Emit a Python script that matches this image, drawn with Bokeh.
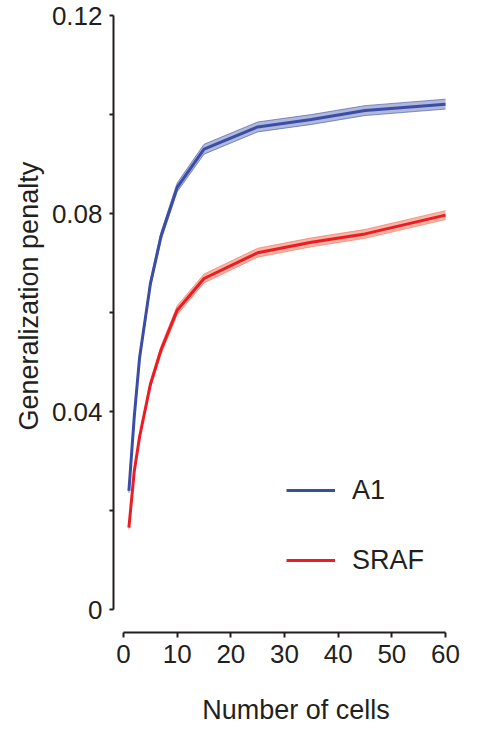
from bokeh.embed import file_html
from bokeh.models import FixedTicker, Legend, LegendItem, Range1d, Title
from bokeh.plotting import figure
from bokeh.resources import INLINE

# Generalization penalty vs. number of cells (mean ± s.e.m.)
cells = [1, 2, 3, 5, 7, 10, 15, 25, 35, 45, 60]
a1_mean = [0.0240, 0.0390, 0.0510, 0.0658, 0.0755, 0.0853, 0.0930, 0.0975, 0.0990, 0.1008, 0.1021]
a1_sem = [0.0004, 0.0005, 0.0006, 0.0007, 0.0008, 0.0009, 0.0010, 0.0010, 0.0010, 0.0010, 0.0010]
sraf_mean = [0.0166, 0.0280, 0.0350, 0.0455, 0.0525, 0.0605, 0.0669, 0.0721, 0.0742, 0.0759, 0.0797]
sraf_sem = [0.0004, 0.0005, 0.0006, 0.0007, 0.0008, 0.0009, 0.0009, 0.0009, 0.0009, 0.0009, 0.0009]

x_ticks = [0, 10, 20, 30, 40, 50, 60]
y_ticks = [0, 0.04, 0.08, 0.12]
y_minor_ticks = [0.02, 0.06, 0.10]
y_tick_labels = ["0", "0.04", "0.08", "0.12"]

INK = "#231f20"
FONT = "Liberation Sans"
A1_COLOR = "#3b4ea6"
SRAF_COLOR = "#ed1c24"
SRAF_BAND = "#f26d4f"

p = figure(
    width=478,
    height=734,
    x_range=Range1d(-1.87, 66.15),
    y_range=Range1d(-0.00458, 0.12),
    output_backend="svg",
    toolbar_location=None,
    min_border_left=113,
    min_border_right=0,
    min_border_top=15,
    min_border_bottom=102,
)
p.outline_line_color = None
p.grid.visible = False
p.background_fill_color = "white"
p.border_fill_color = "white"

# axes: detached spines limited to the data extent
xa = p.xaxis[0]
xa.bounds = (0, 60)
xa.ticker = FixedTicker(ticks=x_ticks)
xa.major_tick_out = 5
xa.major_tick_in = 0
xa.major_label_standoff = 7
xa.axis_label = "Number of cells"
xa.axis_label_standoff = 29
xa.axis_label_text_font = FONT
xa.axis_label_text_font_size = "27px"
xa.axis_label_text_font_style = "normal"
xa.axis_label_text_color = INK

ya = p.yaxis[0]
ya.bounds = (0, 0.12)
ya.ticker = FixedTicker(ticks=y_ticks, minor_ticks=y_minor_ticks)
ya.major_tick_out = 4
ya.major_tick_in = 0
ya.minor_tick_out = 4
ya.minor_tick_in = 0
ya.major_label_standoff = 7
ya.major_label_overrides = dict(zip(y_ticks, y_tick_labels))

for ax in (xa, ya):
    ax.axis_line_color = INK
    ax.axis_line_width = 2
    ax.major_tick_line_color = INK
    ax.major_tick_line_width = 2
    ax.minor_tick_line_color = INK if ax is ya else None
    ax.minor_tick_line_width = 2
    ax.major_label_text_font = FONT
    ax.major_label_text_font_size = "26px"
    ax.major_label_text_color = INK


def band(mean, sem, line_color, fill_color, fill_alpha):
    lower = [m - s for m, s in zip(mean, sem)]
    upper = [m + s for m, s in zip(mean, sem)]
    p.varea(x=cells, y1=lower, y2=upper, fill_color=fill_color, fill_alpha=fill_alpha)
    p.line(cells, lower, line_color=fill_color, line_alpha=0.6, line_width=1)
    p.line(cells, upper, line_color=fill_color, line_alpha=0.6, line_width=1)
    return p.line(cells, mean, line_color=line_color, line_width=3)


a1_line = band(a1_mean, a1_sem, A1_COLOR, A1_COLOR, 0.4)
sraf_line = band(sraf_mean, sraf_sem, SRAF_COLOR, SRAF_BAND, 0.5)

legend = Legend(
    items=[
        LegendItem(label="A1", renderers=[a1_line]),
        LegendItem(label="SRAF", renderers=[sraf_line]),
    ],
    location=(173, 52),
    orientation="vertical",
    glyph_width=49,
    glyph_height=20,
    label_height=40,
    spacing=30,
    padding=0,
    margin=0,
    label_standoff=17,
    label_text_font=FONT,
    label_text_font_size="27px",
    label_text_color=INK,
    border_line_color=None,
    background_fill_alpha=0,
)
p.add_layout(legend)

# vertical axis title, reading bottom to top
p.add_layout(Title(
    text="Generalization penalty", align="left", offset=202,
    text_font=FONT, text_font_size="27px", text_font_style="normal",
    text_color=INK,
), "left")

open("out.html", "w").write(file_html(p, INLINE))
